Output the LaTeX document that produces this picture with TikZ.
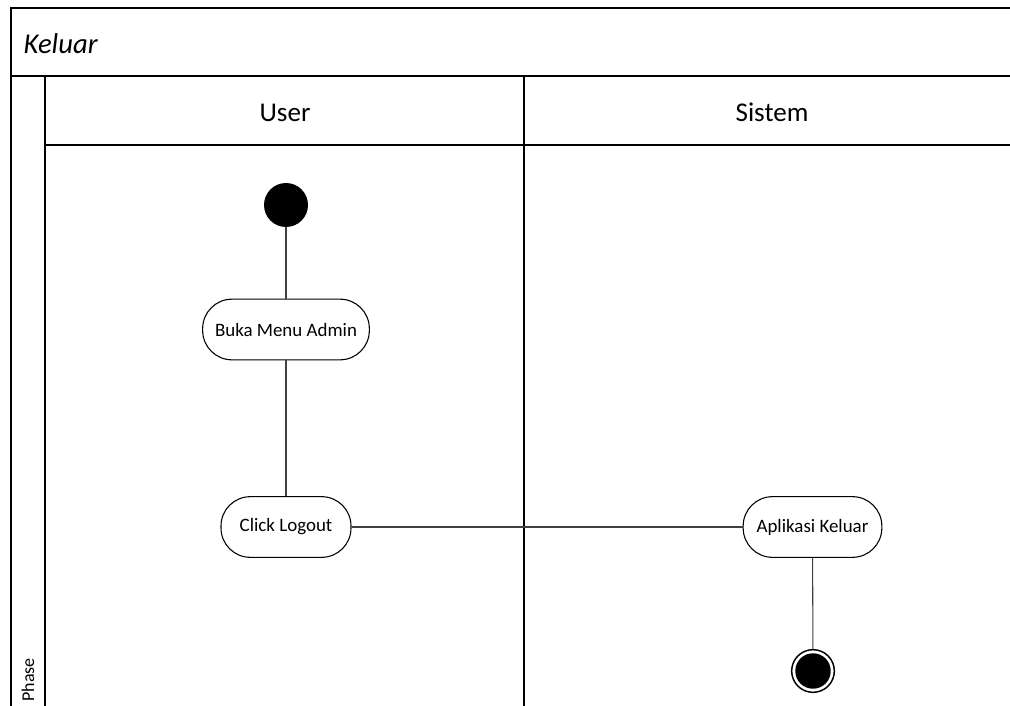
\documentclass[tikz,border=0pt]{standalone}
\usepackage{fontspec}
\setmainfont{Carlito}
\begin{document}
\begin{tikzpicture}[x=0.75pt,y=-0.75pt,
  frame/.style={line width=1.2pt,draw=black},
  flow/.style={line width=0.8pt,draw=black!75},
  action/.style={draw=black,line width=0.8pt,rectangle,rounded corners=22pt,
    minimum height=45.5pt,inner sep=0pt,font=\fontsize{14.2}{16}\selectfont},
  lanetitle/.style={font=\fontsize{20.3}{24}\selectfont}]
  \useasboundingbox (0,0) rectangle (1010,706);
  \clip (0,0) rectangle (1010,706);
  % pool frame, header bands and lanes
  \draw[frame] (11,712) -- (11,8) -- (1016,8);
  \draw[frame] (11,76) -- (1016,76);
  \draw[frame] (45,145) -- (1016,145);
  \draw[frame] (45,76) -- (45,712);
  \draw[frame] (524,76) -- (524,712);
  % labels
  \node[anchor=west,font=\fontsize{21.5}{24}\selectfont\itshape] (title) at (19,44) {Keluar};
  \node[lanetitle] (user) at (285,112.5) {User};
  \node[lanetitle] (sistem) at (772,112.5) {Sistem};
  \node[rotate=90,font=\fontsize{13.5}{15}\selectfont] (phase) at (28,680) {Phase};
  % activity nodes
  \node[circle,fill=black,minimum size=33pt,inner sep=0pt] (start) at (286,205) {};
  \node[action,minimum width=125pt] (buka) at (286,329.5) {Buka Menu Admin};
  \node[action,minimum width=97.5pt] (click) at (286,527) {Click Logout};
  \node[action,minimum width=104pt] (aplikasi) at (812.5,527) {Aplikasi Keluar};
  \node[circle,draw=black,line width=1.1pt,minimum size=32pt,inner sep=0pt] (end) at (813,671) {};
  \fill[black] (end.center) circle (13.3pt);
  % transitions
  \draw[flow] (start) -- (buka);
  \draw[flow] (buka) -- (click);
  \draw[flow] (click) -- (aplikasi);
  \draw[flow] (aplikasi) -- (end);
\end{tikzpicture}
\end{document}
